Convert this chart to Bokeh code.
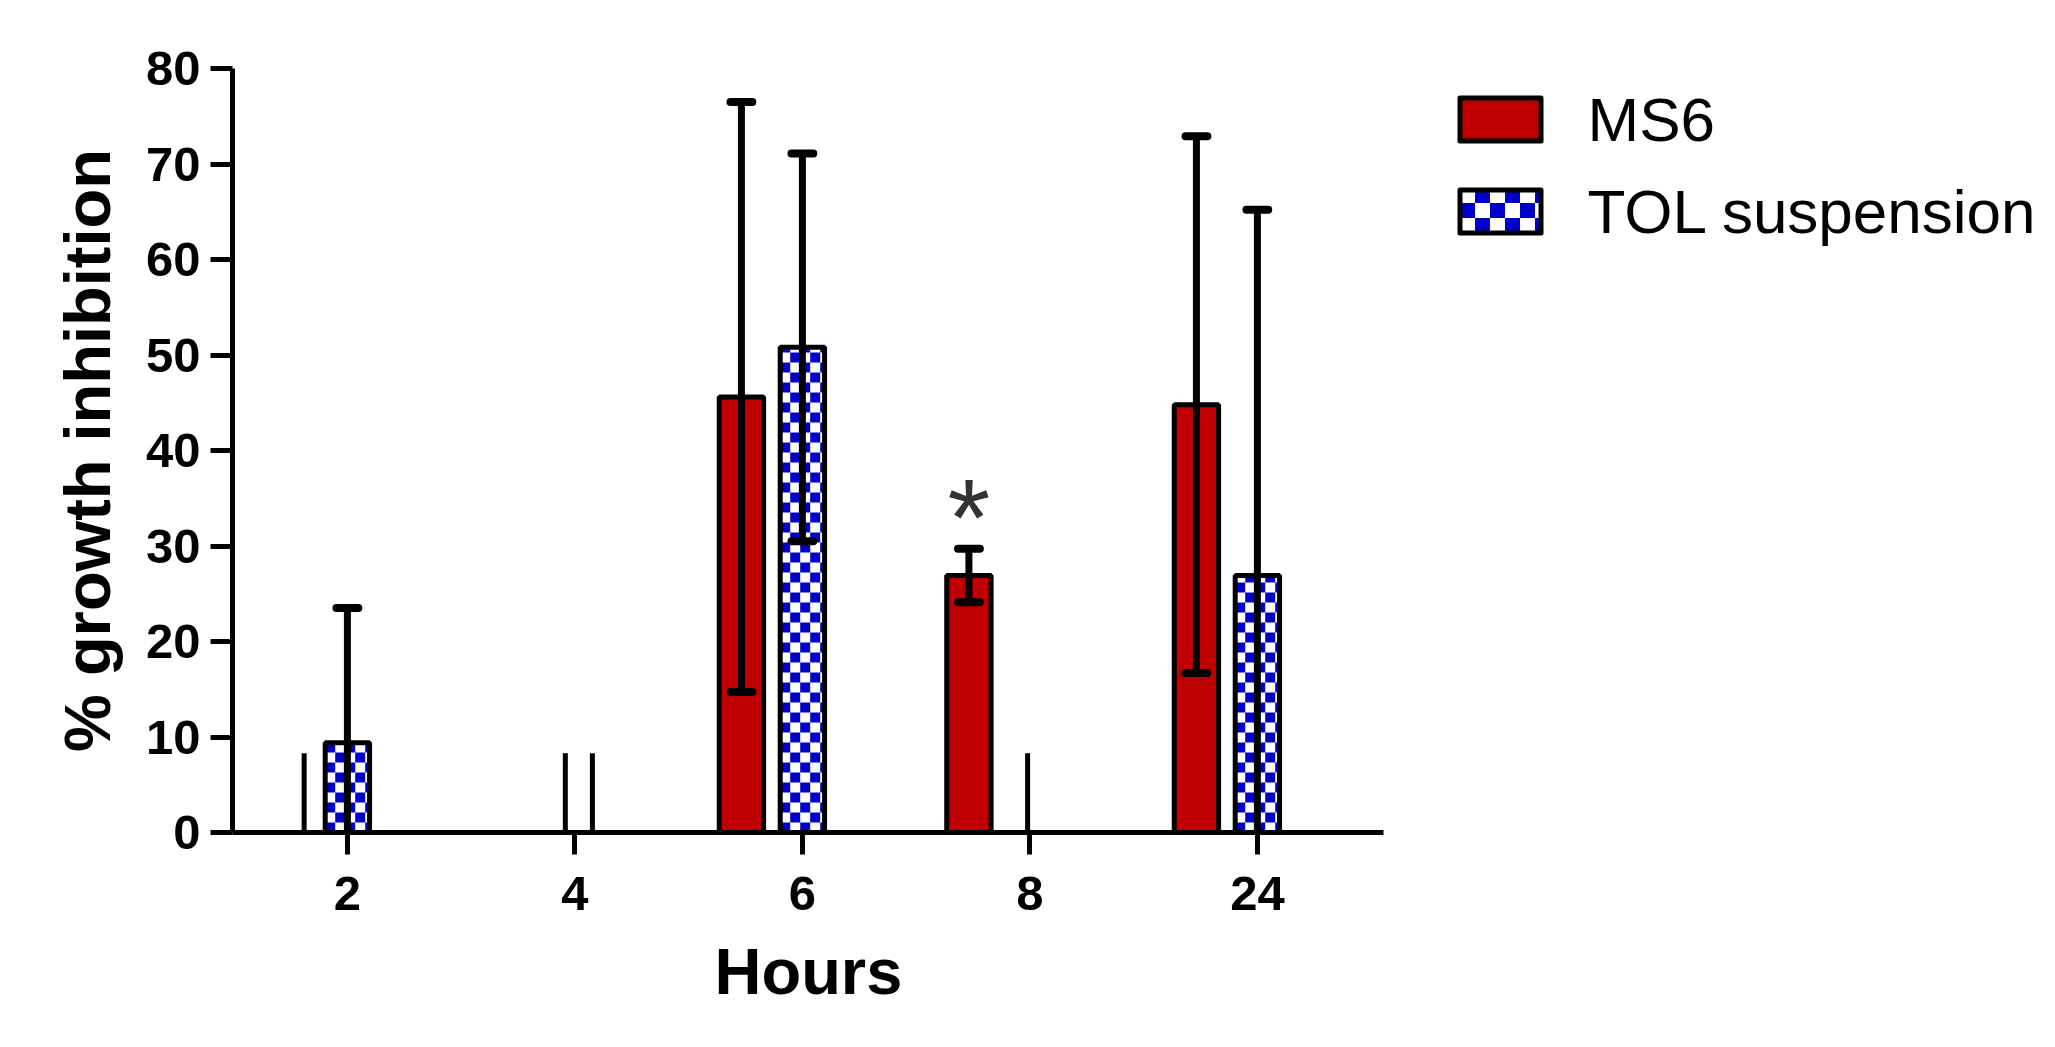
import math
from bokeh.plotting import figure
from bokeh.models import Range1d, FixedTicker, Title
from bokeh.core.properties import value
from bokeh.embed import file_html
from bokeh.resources import INLINE

# ---------------- data ----------------
hours = ["2", "4", "6", "8", "24"]
series_names = ["MS6", "TOL suspension"]
ms6_mean = [0.0, 0.0, 45.6, 26.9, 44.8]
ms6_err = [0.0, 0.0, 30.9, 2.8, 28.1]
tol_mean = [9.4, 0.0, 50.8, 0.0, 26.9]
tol_err = [14.1, 0.0, 20.3, 0.0, 38.3]
ms6_signif = [False, False, False, True, False]
y_ticks = [0, 10, 20, 30, 40, 50, 60, 70, 80]
zero_stub_top = 8.3

# ---------------- style / layout ----------------
RED = "#C00000"
BLUE = "#0000CD"
FONT = "Liberation Sans"
MS6_OFF = -0.268
TOL_OFF = 0.0
BAR_W = 0.195
CAP_HALF = 0.048
STUB_OFF = {("MS6", 0): -0.19, ("MS6", 1): -0.042, ("TOL", 1): 0.077, ("TOL", 3): -0.01}

FL, FT, FB = 232, 68, 832          # frame left / top / bottom (page px)
PX_X = 227.5                       # px per category step
X0 = -0.505                        # x at frame left
X_AXIS_END = 4.554                 # end of drawn x axis
FRAME_W = 1808
FRAME_H = FB - FT
Y_MAX = 80
PX_Y = FRAME_H / Y_MAX


def dx(px):
    return X0 + (px - FL) / PX_X


def dy(py):
    return (FB - py) / PX_Y


p = figure(frame_width=FRAME_W, frame_height=FRAME_H, output_backend="svg",
           toolbar_location=None,
           x_range=Range1d(X0, X0 + FRAME_W / PX_X), y_range=Range1d(0, Y_MAX),
           min_border_left=FL, min_border_top=FT,
           min_border_right=5, min_border_bottom=200)
p.outline_line_color = None
p.xgrid.visible = False
p.ygrid.visible = False
p.background_fill_color = "white"

idx = list(range(len(hours)))


def checker(left, right, bottom, top, sq_px, blue_first=True):
    sqx, sqy = sq_px / PX_X, sq_px / PX_Y
    ncol = int(math.ceil((right - left) / sqx - 1e-9))
    nrow = int(math.ceil((top - bottom) / sqy - 1e-9))
    L, R, B, T = [], [], [], []
    for r in range(nrow):
        for c in range(ncol):
            if ((r + c) % 2 == 0) == blue_first:
                L.append(left + c * sqx)
                R.append(min(left + (c + 1) * sqx, right))
                B.append(bottom + r * sqy)
                T.append(min(bottom + (r + 1) * sqy, top))
    return L, R, B, T


# MS6 bars
ms6_x = [i + MS6_OFF for i in idx if ms6_mean[i] > 0]
ms6_t = [m for m in ms6_mean if m > 0]
p.vbar(x=ms6_x, top=ms6_t, bottom=0, width=BAR_W,
       fill_color=RED, line_color="black", line_width=5)

# TOL bars with checker fill
tol_x = [i + TOL_OFF for i in idx if tol_mean[i] > 0]
tol_t = [m for m in tol_mean if m > 0]
p.vbar(x=tol_x, top=tol_t, bottom=0, width=BAR_W, fill_color="white", line_color=None)
CL, CR, CB, CT = [], [], [], []
for x, t in zip(tol_x, tol_t):
    L, R, B, T = checker(x - BAR_W / 2, x + BAR_W / 2, 0, t, 10)
    CL += L; CR += R; CB += B; CT += T
p.quad(left=CL, right=CR, bottom=CB, top=CT, fill_color=BLUE, line_color=None)
p.vbar(x=tol_x, top=tol_t, bottom=0, width=BAR_W, fill_color=None,
       line_color="black", line_width=5)

# zero-value bars appear as thin stubs
sx, s1 = [], []
for key, means in (("MS6", ms6_mean), ("TOL", tol_mean)):
    for i in idx:
        if means[i] == 0 and (key, i) in STUB_OFF:
            sx.append(i + STUB_OFF[(key, i)])
            s1.append(zero_stub_top)
p.segment(x0=sx, y0=[0] * len(sx), x1=sx, y1=s1, line_color="black", line_width=5)

# error bars
ex, elo, ehi = [], [], []
cx, cy = [], []
for off, means, errs in ((MS6_OFF, ms6_mean, ms6_err), (TOL_OFF, tol_mean, tol_err)):
    for i in idx:
        if means[i] > 0 and errs[i] > 0:
            x = i + off
            lo = means[i] - errs[i]
            hi = means[i] + errs[i]
            ex.append(x)
            elo.append(max(lo, 0))
            ehi.append(hi)
            cx.append(x); cy.append(hi)
            if lo > 0:
                cx.append(x); cy.append(lo)
p.segment(x0=ex, y0=elo, x1=ex, y1=ehi, line_color="black", line_width=7)
p.segment(x0=[x - CAP_HALF for x in cx], y0=cy, x1=[x + CAP_HALF for x in cx], y1=cy,
          line_color="black", line_width=8, line_cap="round")

# significance asterisk
ax = [i + MS6_OFF for i in idx if ms6_signif[i]]
ay = [ms6_mean[i] + ms6_err[i] for i in idx if ms6_signif[i]]
p.text(x=ax, y=ay, text=["*"] * len(ax), text_align="center", text_baseline="alphabetic",
       text_font=value(FONT), text_font_size="110px", text_color="#333333", y_offset=-32)

# ---------------- legend (drawn in the plot area, right of the axis) ----------------
LEG_L, LEG_R = 1459.5, 1540.5
LEG_ROWS = [(97.5, 140.5), (189.5, 232.5)]
LEG_TEXT_X = 1587
for k, (ty, by) in enumerate(LEG_ROWS):
    l, r, t, b = dx(LEG_L), dx(LEG_R), dy(ty), dy(by)
    if k == 0:
        p.quad(left=[l], right=[r], top=[t], bottom=[b], fill_color=RED,
               line_color="black", line_width=5, line_join="round")
    else:
        p.quad(left=[l], right=[r], top=[t], bottom=[b], fill_color="white", line_color=None)
        L, R, B, T = checker(l, r, b, t, 15, blue_first=False)
        p.quad(left=L, right=R, bottom=B, top=T, fill_color=BLUE, line_color=None)
        p.quad(left=[l], right=[r], top=[t], bottom=[b], fill_color=None,
               line_color="black", line_width=5, line_join="round")
    p.text(x=[dx(LEG_TEXT_X)], y=[(t + b) / 2], text=[series_names[k]],
           text_align="left", text_baseline="middle", text_font=value(FONT),
           text_font_size="62px", text_color="black")

# ---------------- axes ----------------
for ax_ in (p.xaxis[0], p.yaxis[0]):
    ax_.axis_line_width = 5
    ax_.axis_line_color = "black"
    ax_.major_tick_line_width = 5
    ax_.major_tick_line_color = "black"
    ax_.major_tick_out = 22
    ax_.major_tick_in = 0
    ax_.minor_tick_line_color = None
    ax_.major_label_text_font = FONT
    ax_.major_label_text_font_style = "bold"
    ax_.major_label_text_font_size = "49px"
    ax_.major_label_text_color = "black"
    ax_.axis_label_text_font = FONT
    ax_.axis_label_text_font_style = "bold"
    ax_.axis_label_text_font_size = "65px"
    ax_.axis_label_text_color = "black"

p.xaxis.bounds = (X0, X_AXIS_END)
p.xaxis.ticker = FixedTicker(ticks=idx)
p.xaxis.major_label_overrides = {i: h for i, h in zip(idx, hours)}
p.xaxis.major_label_standoff = 22
p.yaxis.ticker = FixedTicker(ticks=y_ticks)
p.yaxis.major_label_standoff = 10
p.yaxis.axis_label = "% growth inhibition"
p.yaxis.axis_label_standoff = 19

# x-axis title centred under the drawn axis (the frame extends to hold the legend)
HOURS_LEFT = 714
p.add_layout(Title(text="Hours", align="left", offset=HOURS_LEFT - FL, standoff=40,
                   text_font=FONT, text_font_style="bold", text_font_size="65px",
                   text_color="black"), "below")

open("out.html", "w").write(file_html(p, INLINE))
